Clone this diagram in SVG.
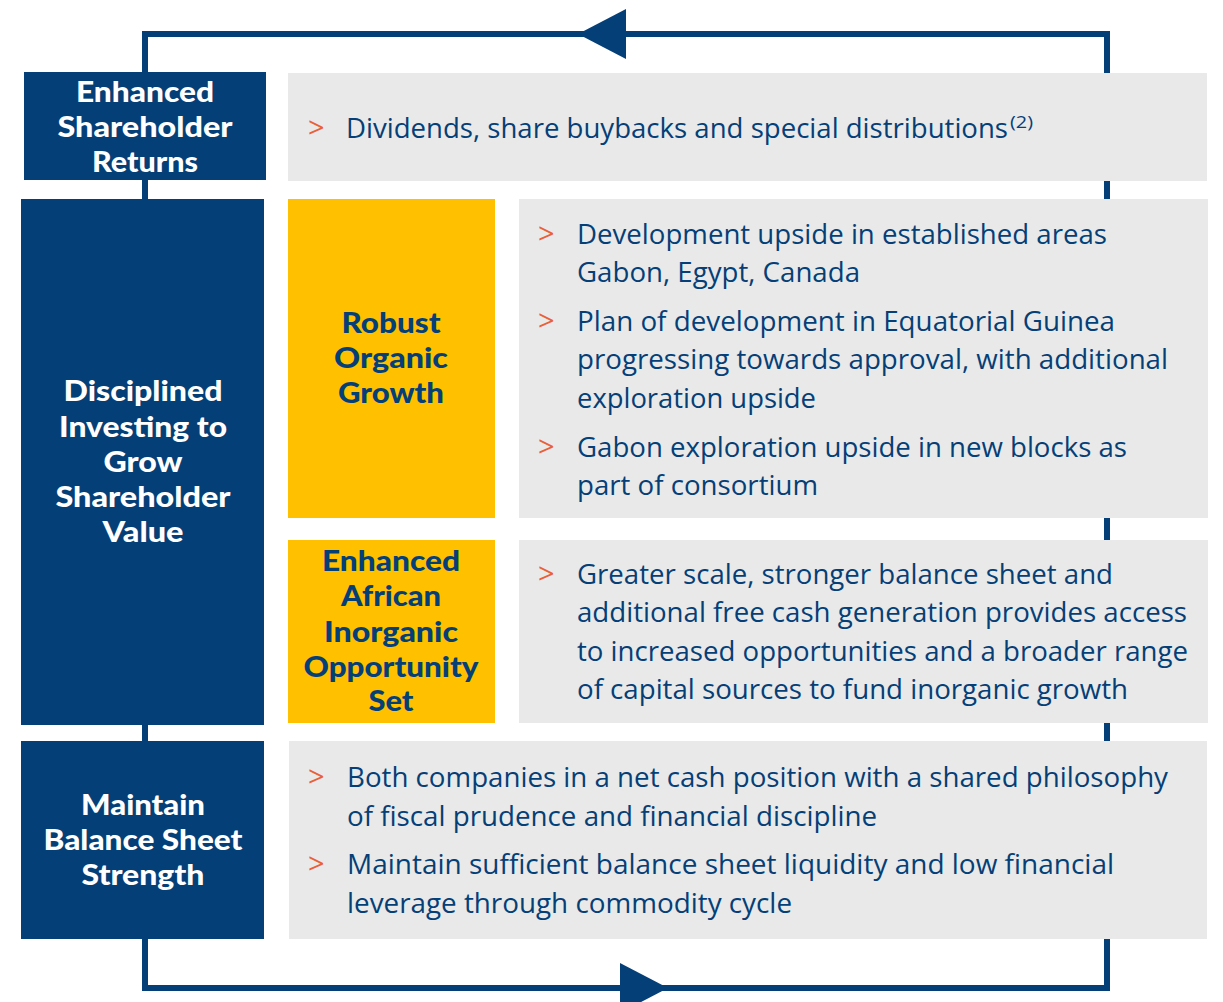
<svg xmlns="http://www.w3.org/2000/svg" width="1223" height="1002" viewBox="0 0 1223 1002">
<style>
.navy{fill:#053F77}
.yel{fill:#FFC000}
.gray{fill:#E9E9E9}
.h{font-family:Lato,"Open Sans","DejaVu Sans",sans-serif;font-weight:900;font-size:28px;text-anchor:middle}
.hw{fill:#FFFFFF}
.hn{fill:#053F77}
.b{font-family:"Open Sans","Noto Sans",sans-serif;font-size:27px;fill:#053F77}
.c{font-family:"Open Sans","Noto Sans",sans-serif;font-size:29px;fill:#EA5F3B}
.sup{font-family:"Open Sans","Noto Sans",sans-serif;font-size:17px;fill:#053F77}
.line{fill:none;stroke:#053F77;stroke-width:6}
</style>
<rect width="1223" height="1002" fill="#FFFFFF"/>
<g id="connectors">
<path class="line" d="M145,34 H1107 V988 H145 Z"/>
<polygon class="navy" points="578,34 626,9 626,59"/>
<polygon class="navy" points="668,988 620,963 620,1013"/>
</g>
<g id="enhanced-shareholder-returns">
<rect class="navy" x="24" y="72" width="242" height="108"/>
<text class="h hw" x="145" y="102" textLength="138" lengthAdjust="spacingAndGlyphs">Enhanced</text>
<text class="h hw" x="145" y="137" textLength="175" lengthAdjust="spacingAndGlyphs">Shareholder</text>
<text class="h hw" x="145" y="172" textLength="106" lengthAdjust="spacingAndGlyphs">Returns</text>
</g>
<g id="returns-detail">
<rect class="gray" x="288" y="73" width="919" height="108"/>
<text class="c" x="308" y="138">&gt;</text>
<text class="b" x="346" y="138" textLength="662" lengthAdjust="spacingAndGlyphs">Dividends, share buybacks and special distributions</text>
<text class="sup" x="1010" y="128" textLength="23" lengthAdjust="spacingAndGlyphs">(2)</text>
</g>
<g id="disciplined-investing">
<rect class="navy" x="21" y="199" width="243" height="526"/>
<text class="h hw" x="143" y="401" textLength="159" lengthAdjust="spacingAndGlyphs">Disciplined</text>
<text class="h hw" x="143" y="437" textLength="168" lengthAdjust="spacingAndGlyphs">Investing to</text>
<text class="h hw" x="143" y="472" textLength="79" lengthAdjust="spacingAndGlyphs">Grow</text>
<text class="h hw" x="143" y="507" textLength="175" lengthAdjust="spacingAndGlyphs">Shareholder</text>
<text class="h hw" x="143" y="542" textLength="81" lengthAdjust="spacingAndGlyphs">Value</text>
</g>
<g id="robust-organic-growth">
<rect class="yel" x="288" y="199" width="207" height="319"/>
<text class="h hn" x="391" y="333" textLength="99" lengthAdjust="spacingAndGlyphs">Robust</text>
<text class="h hn" x="391" y="368" textLength="114" lengthAdjust="spacingAndGlyphs">Organic</text>
<text class="h hn" x="391" y="403" textLength="106" lengthAdjust="spacingAndGlyphs">Growth</text>
</g>
<g id="organic-detail">
<rect class="gray" x="519" y="199" width="689" height="319"/>
<text class="c" x="538" y="244">&gt;</text>
<text class="b" x="577" y="244" textLength="530" lengthAdjust="spacingAndGlyphs">Development upside in established areas</text>
<text class="b" x="577" y="282" textLength="283" lengthAdjust="spacingAndGlyphs">Gabon, Egypt, Canada</text>
<text class="c" x="538" y="331">&gt;</text>
<text class="b" x="577" y="331" textLength="538" lengthAdjust="spacingAndGlyphs">Plan of development in Equatorial Guinea</text>
<text class="b" x="577" y="369" textLength="591" lengthAdjust="spacingAndGlyphs">progressing towards approval, with additional</text>
<text class="b" x="577" y="408" textLength="239" lengthAdjust="spacingAndGlyphs">exploration upside</text>
<text class="c" x="538" y="457">&gt;</text>
<text class="b" x="577" y="457" textLength="550" lengthAdjust="spacingAndGlyphs">Gabon exploration upside in new blocks as</text>
<text class="b" x="577" y="495" textLength="241" lengthAdjust="spacingAndGlyphs">part of consortium</text>
</g>
<g id="inorganic-opportunity">
<rect class="yel" x="288" y="540" width="207" height="183"/>
<text class="h hn" x="391" y="571" textLength="138" lengthAdjust="spacingAndGlyphs">Enhanced</text>
<text class="h hn" x="391" y="606" textLength="100" lengthAdjust="spacingAndGlyphs">African</text>
<text class="h hn" x="391" y="642" textLength="134" lengthAdjust="spacingAndGlyphs">Inorganic</text>
<text class="h hn" x="391" y="677" textLength="175" lengthAdjust="spacingAndGlyphs">Opportunity</text>
<text class="h hn" x="391" y="711" textLength="45" lengthAdjust="spacingAndGlyphs">Set</text>
</g>
<g id="inorganic-detail">
<rect class="gray" x="519" y="540" width="689" height="183"/>
<text class="c" x="538" y="584">&gt;</text>
<text class="b" x="577" y="584" textLength="536" lengthAdjust="spacingAndGlyphs">Greater scale, stronger balance sheet and</text>
<text class="b" x="577" y="622" textLength="610" lengthAdjust="spacingAndGlyphs">additional free cash generation provides access</text>
<text class="b" x="577" y="661" textLength="611" lengthAdjust="spacingAndGlyphs">to increased opportunities and a broader range</text>
<text class="b" x="577" y="699" textLength="551" lengthAdjust="spacingAndGlyphs">of capital sources to fund inorganic growth</text>
</g>
<g id="maintain-balance-sheet">
<rect class="navy" x="21" y="741" width="243" height="198"/>
<text class="h hw" x="143" y="815" textLength="124" lengthAdjust="spacingAndGlyphs">Maintain</text>
<text class="h hw" x="143" y="850" textLength="199" lengthAdjust="spacingAndGlyphs">Balance Sheet</text>
<text class="h hw" x="143" y="885" textLength="123" lengthAdjust="spacingAndGlyphs">Strength</text>
</g>
<g id="balance-detail">
<rect class="gray" x="289" y="741" width="918" height="198"/>
<text class="c" x="308" y="787">&gt;</text>
<text class="b" x="347" y="787" textLength="821" lengthAdjust="spacingAndGlyphs">Both companies in a net cash position with a shared philosophy</text>
<text class="b" x="347" y="826" textLength="530" lengthAdjust="spacingAndGlyphs">of fiscal prudence and financial discipline</text>
<text class="c" x="308" y="874">&gt;</text>
<text class="b" x="347" y="874" textLength="767" lengthAdjust="spacingAndGlyphs">Maintain sufficient balance sheet liquidity and low financial</text>
<text class="b" x="347" y="913" textLength="445" lengthAdjust="spacingAndGlyphs">leverage through commodity cycle</text>
</g>
</svg>
